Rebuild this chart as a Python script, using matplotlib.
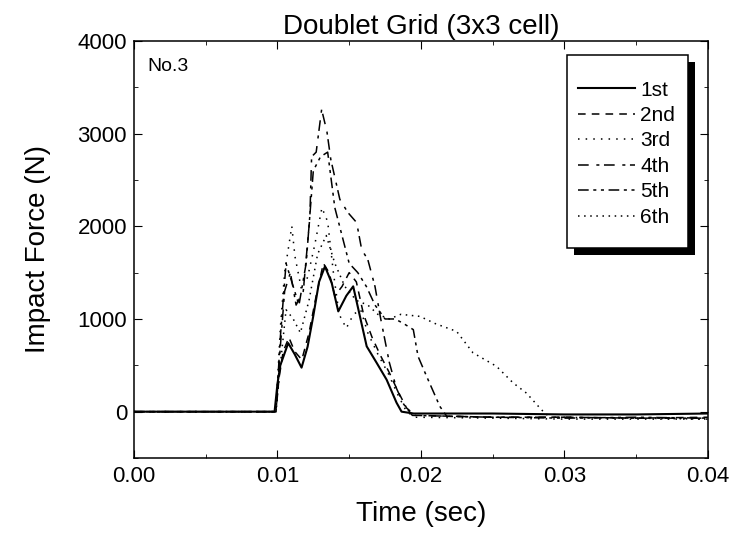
import matplotlib.pyplot as plt
from matplotlib.patches import Rectangle
from matplotlib.ticker import MultipleLocator

plt.rcParams['font.family'] = ['Liberation Sans', 'DejaVu Sans']

# time (sec) / impact force (N) for each impact
t1 = [0, 0.0098, 0.0100, 0.0102, 0.01075, 0.0112, 0.01168, 0.0121, 0.01249, 0.0129, 0.01331, 0.01378, 0.01424,
      0.0148, 0.01528, 0.01575, 0.01622, 0.01691, 0.01761, 0.0183, 0.01865, 0.0195, 0.025, 0.03, 0.035, 0.04]
f1 = [0, 0, 300, 500, 740, 620, 475, 700, 1025, 1400, 1567, 1390, 1082,
      1250, 1352, 1028, 705, 528, 345, 97, 0, -20, -20, -30, -30, -20]

t2 = [0, 0.0099, 0.0101, 0.0104, 0.0108, 0.0112, 0.0117, 0.0122, 0.0127, 0.0132, 0.0136, 0.0140, 0.0145,
      0.0150, 0.0155, 0.0160, 0.0166, 0.0172, 0.0178, 0.0184, 0.0190, 0.0196, 0.025, 0.03, 0.035, 0.04]
f2 = [0, 0, 350, 650, 800, 650, 560, 850, 1250, 1600, 1500, 1250, 1350,
      1500, 1400, 1050, 800, 600, 420, 220, 40, -40, -60, -60, -70, -60]

t3 = [0, 0.0099, 0.0102, 0.0105, 0.0110, 0.01122, 0.01168, 0.0121, 0.0126, 0.0131, 0.0135, 0.0139, 0.0143,
      0.0148, 0.0153, 0.0158, 0.0163, 0.0170, 0.0177, 0.0184, 0.0190, 0.0196, 0.025, 0.03, 0.035, 0.04]
f3 = [0, 0, 900, 1500, 2000, 1675, 1315, 1450, 1800, 2200, 2050, 1500, 1050,
      900, 1050, 1100, 850, 620, 420, 180, 0, -60, -70, -80, -80, -80]

t4 = [0, 0.0099, 0.0102, 0.0105, 0.0109, 0.0113, 0.0118, 0.01226, 0.01238, 0.0127, 0.01308, 0.01345, 0.01372,
      0.01435, 0.0149, 0.01552, 0.01587, 0.0163, 0.0168, 0.0172, 0.0178, 0.0183, 0.0188, 0.0194,
      0.025, 0.03, 0.035, 0.04]
f4 = [0, 0, 700, 1300, 1500, 1150, 1300, 2100, 2750, 2800, 3260, 3020, 2720,
      2290, 2150, 2040, 1750, 1640, 1350, 1000, 530, 250, 80, -40,
      -60, -60, -70, -70]

t5 = [0, 0.0099, 0.0102, 0.0106, 0.0110, 0.0115, 0.0120, 0.0125, 0.0130, 0.0135, 0.0140, 0.0145, 0.0150,
      0.0156, 0.0162, 0.0168, 0.0175, 0.0182, 0.0188, 0.01947, 0.0198, 0.0204, 0.02132, 0.0218,
      0.025, 0.03, 0.035, 0.04]
f5 = [0, 0, 800, 1600, 1400, 1150, 1600, 2600, 2750, 2800, 2200, 1900, 1600,
      1500, 1350, 1150, 1000, 1000, 950, 885, 597, 380, 57, -50,
      -60, -70, -60, -70]

t6 = [0, 0.0099, 0.0102, 0.0106, 0.0111, 0.0116, 0.0122, 0.0128, 0.0134, 0.0140, 0.0147, 0.0155, 0.0163,
      0.0170, 0.0178, 0.0186, 0.01993, 0.0210, 0.02249, 0.02363, 0.02527, 0.02643, 0.02736, 0.02829,
      0.0286, 0.029, 0.035, 0.04]
f6 = [0, 0, 500, 1100, 1000, 850, 1200, 1700, 1900, 1600, 1350, 1200, 1150,
      1050, 1000, 1050, 1028, 950, 866, 635, 489, 310, 200, 40,
      -10, -60, -70, -80]

fig = plt.figure(figsize=(7.31, 5.41), dpi=100)
ax = fig.add_axes([0.1833, 0.1534, 0.785, 0.771])

ax.plot(t1, f1, color='black', lw=1.5, ls='-', label='1st')
ax.plot(t2, f2, color='black', lw=1.1, ls=(0, (5, 4)), label='2nd')
ax.plot(t3, f3, color='black', lw=1.1, ls=(0, (1, 4)), label='3rd')
ax.plot(t4, f4, color='black', lw=1.1, ls=(0, (7, 5, 2, 3)), label='4th')
ax.plot(t5, f5, color='black', lw=1.1, ls=(0, (7, 3, 2, 3, 2, 3)), label='5th')
ax.plot(t6, f6, color='black', lw=1.1, ls=(0, (1, 3)), label='6th')

ax.set_xlim(0, 0.04)
ax.set_ylim(-500, 4000)
ax.xaxis.set_major_locator(MultipleLocator(0.01))
ax.xaxis.set_minor_locator(MultipleLocator(0.005))
ax.yaxis.set_major_locator(MultipleLocator(1000))
ax.yaxis.set_minor_locator(MultipleLocator(500))
ax.xaxis.set_major_formatter(plt.FuncFormatter(lambda v, p: f'{v:.2f}'))
ax.tick_params(which='both', direction='in', top=True, right=True, labelsize=16)
ax.tick_params(axis='x', pad=6)
ax.tick_params(axis='y', pad=5)
ax.tick_params(which='major', length=6)
ax.tick_params(which='minor', length=3)
for s in ax.spines.values():
    s.set_linewidth(1.1)

ax.set_xlabel('Time (sec)', fontsize=20, labelpad=10)
ax.set_ylabel('Impact Force (N)', fontsize=20, labelpad=19)
ax.set_title('Doublet Grid (3x3 cell)', fontsize=20, pad=5)
ax.text(0.0226, 0.959, 'No.3', transform=ax.transAxes, fontsize=14, va='top')

# legend frame with a solid drop shadow
ax.add_patch(Rectangle((0.7544 + 0.0122, 0.5036 - 0.0168), 0.2108, 0.4628, transform=ax.transAxes,
                       facecolor='black', edgecolor='none', zorder=4))
ax.add_patch(Rectangle((0.7544, 0.5036), 0.2108, 0.4628, transform=ax.transAxes,
                       facecolor='white', edgecolor='black', lw=1.1, zorder=5))
leg = ax.legend(loc='upper left', bbox_to_anchor=(0.7735, 0.905), frameon=False,
                fontsize=15, handlelength=2.75, handletextpad=0.25, labelspacing=0.31,
                borderpad=0, borderaxespad=0)
leg.set_zorder(6)

plt.savefig('out.png', dpi=100)
